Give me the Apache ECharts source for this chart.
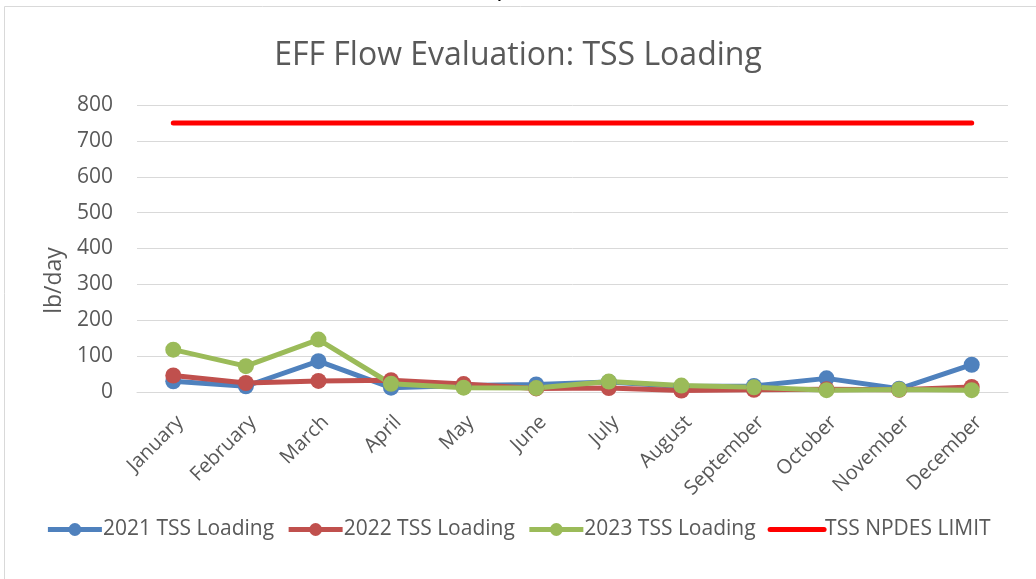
<!DOCTYPE html>
<html>
<head>
<meta charset="utf-8">
<script src="https://cdn.jsdelivr.net/npm/echarts@6/dist/echarts.min.js"></script>
<style>
  html, body { margin: 0; padding: 0; background: #fff; }
  #chart { width: 1036px; height: 579px; }
</style>
</head>
<body>
<div id="chart"></div>
<script>
const months = ['January', 'February', 'March', 'April', 'May', 'June', 'July',
  'August', 'September', 'October', 'November', 'December']
const loading2021 = [30, 16, 86, 12, 18, 21, 28, 15, 17, 38, 9, 76]
const loading2022 = [46, 25, 31, 33, 22, 10, 11, 4, 6, 8, 6, 14]
const loading2023 = [118, 72, 146, 23, 12, 11, 29, 18, 13, 5, 7, 5]
const npdesLimit = [750, 750, 750, 750, 750, 750, 750, 750, 750, 750, 750, 750]
const yTicks = { min: 0, max: 800, step: 100 }

const font = 'Open Sans'
const grey = '#595959'

const chart = echarts.init(document.getElementById('chart'))

function loadSeries(name, data, color) {
  return {
    name, type: 'line', data,
    symbol: 'circle', symbolSize: 16,
    lineStyle: { color, width: 5 },
    itemStyle: { color },
    z: 3
  }
}

chart.setOption({
  animation: false,
  title: {
    text: 'EFF Flow Evaluation: TSS Loading',
    left: 'center', top: 35,
    textStyle: { fontFamily: font, fontSize: 32, fontWeight: 'normal', color: grey }
  },
  graphic: [
    { type: 'rect', shape: { x: 4.5, y: 6.5, width: 1100, height: 700 },
      style: { fill: null, stroke: '#d9d9d9', lineWidth: 1 }, silent: true },
    { type: 'text', x: 490, y: 1, style: { text: 'Graph', font: '24px "Liberation Sans"', fill: '#000',
      textAlign: 'center', textVerticalAlign: 'bottom' } }
  ],
  legend: {
    bottom: 34, left: 'center',
    itemWidth: 54, itemHeight: 16, itemGap: 12,
    lineStyle: { width: 5 },
    textStyle: { fontFamily: font, fontSize: 21, color: grey, padding: [0, 0, 0, -4] },
    data: ['2021 TSS Loading', '2022 TSS Loading', '2023 TSS Loading',
      { name: 'TSS NPDES LIMIT', itemStyle: { opacity: 0 } }]
  },
  grid: { left: 137, right: 28, top: 105, bottom: 187, containLabel: false },
  xAxis: {
    type: 'category', data: months, boundaryGap: true,
    axisLine: { lineStyle: { color: '#d9d9d9', width: 1 } },
    axisTick: { show: false },
    axisLabel: { rotate: 45, margin: 20, verticalAlign: 'top', interval: 0,
      fontFamily: font, fontSize: 20, color: grey }
  },
  yAxis: {
    type: 'value', min: yTicks.min, max: yTicks.max, interval: yTicks.step,
    name: 'lb/day', nameLocation: 'middle', nameGap: 65, nameRotate: 90,
    nameTextStyle: { fontFamily: font, fontSize: 23, color: grey, padding: [0, 64, 0, 0] },
    axisLine: { show: false }, axisTick: { show: false },
    axisLabel: { margin: 24, fontFamily: font, fontSize: 21, color: grey },
    splitLine: { lineStyle: { color: '#d9d9d9', width: 1 } }
  },
  series: [
    loadSeries('2021 TSS Loading', loading2021, '#4f81bd'),
    loadSeries('2022 TSS Loading', loading2022, '#c0504d'),
    loadSeries('2023 TSS Loading', loading2023, '#9bbb59'),
    {
      name: 'TSS NPDES LIMIT', type: 'line', data: npdesLimit,
      symbol: 'none',
      lineStyle: { color: '#ff0000', width: 5, cap: 'round' },
      itemStyle: { color: '#ff0000' }
    }
  ]
})
</script>
</body>
</html>
